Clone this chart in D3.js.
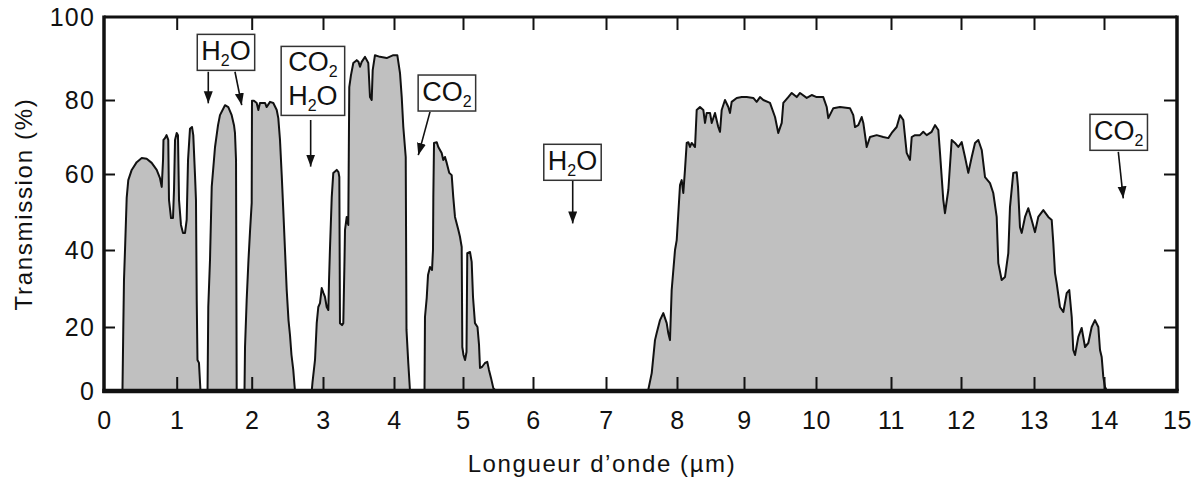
<!DOCTYPE html>
<html>
<head>
<meta charset="utf-8">
<script src="https://cdn.jsdelivr.net/npm/d3@7"></script>
<style>
  body { margin: 0; background: #fff; }
  svg text { font-family: "Liberation Sans", Arial, Helvetica, sans-serif; fill: #111; }
</style>
</head>
<body>
<svg id="chart" width="1198" height="477"></svg>
<script>
// Atmospheric transmission spectrum
var wavelength = [
  0.254, 0.265, 0.275, 0.289, 0.312, 0.334, 0.381, 0.450, 0.519, 0.587, 0.656, 0.725, 0.770, 0.794, 0.812, 0.818,
  0.839, 0.860, 0.884, 0.894, 0.922, 0.949, 0.963, 0.977, 1.000, 1.017, 1.031, 1.057, 1.084, 1.111, 1.133, 1.151,
  1.177, 1.204, 1.221, 1.244, 1.257, 1.267, 1.277, 1.297, 1.317,
  1.411, 1.421, 1.444, 1.467, 1.511, 1.551, 1.577, 1.644, 1.688, 1.733, 1.764, 1.777, 1.791, 1.800,
  1.904, 1.911, 1.933, 1.957, 1.977, 2.000, 2.004, 2.032, 2.070, 2.093, 2.116, 2.187, 2.210, 2.257, 2.303, 2.351,
  2.373, 2.397, 2.421, 2.443, 2.467, 2.491, 2.516, 2.537, 2.558, 2.583, 2.607,
  2.842, 2.853, 2.888, 2.912, 2.934, 2.958, 2.982, 3.007, 3.028, 3.052, 3.075, 3.085, 3.099, 3.123, 3.145, 3.193,
  3.218, 3.230, 3.239, 3.268, 3.286, 3.303, 3.310, 3.334, 3.356, 3.370, 3.394, 3.427, 3.475, 3.500, 3.521, 3.545,
  3.592, 3.638, 3.662, 3.686, 3.700, 3.732, 3.803, 3.897, 3.990, 4.048, 4.087, 4.112, 4.135, 4.170, 4.181, 4.207, 4.232,
  4.442, 4.449, 4.474, 4.493, 4.522, 4.551, 4.565, 4.570, 4.580, 4.619, 4.642, 4.691, 4.714, 4.739, 4.764, 4.801,
  4.836, 4.859, 4.884, 4.932, 4.957, 4.981, 4.990, 5.007, 5.029, 5.050, 5.061, 5.100, 5.124, 5.143, 5.171, 5.207,
  5.229, 5.243, 5.271, 5.314, 5.347, 5.371, 5.400, 5.433, 5.471,
  7.592, 7.644, 7.690, 7.714, 7.761, 7.807, 7.855, 7.877, 7.901, 7.925, 7.972, 7.996, 8.045, 8.070, 8.094, 8.119,
  8.145, 8.169, 8.194, 8.219, 8.269, 8.294, 8.343, 8.393, 8.418, 8.443, 8.493, 8.518, 8.567, 8.616, 8.642, 8.667,
  8.716, 8.766, 8.791, 8.816, 8.891, 8.966, 9.038, 9.129, 9.176, 9.222, 9.268, 9.361, 9.431, 9.476, 9.524, 9.546,
  9.615, 9.663, 9.732, 9.778, 9.871, 9.940, 10.009, 10.097, 10.143, 10.164, 10.231, 10.320, 10.453, 10.497, 10.520, 10.564,
  10.609, 10.631, 10.676, 10.720, 10.809, 10.897, 10.964, 11.010, 11.081, 11.129, 11.176, 11.224, 11.271, 11.296, 11.343, 11.414,
  11.461, 11.510, 11.581, 11.629, 11.676, 11.700, 11.747, 11.771, 11.819, 11.867, 11.914, 11.961, 12.010, 12.055, 12.100, 12.147,
  12.192, 12.237, 12.284, 12.329, 12.397, 12.442, 12.489, 12.511, 12.557, 12.603, 12.648, 12.671, 12.716, 12.763, 12.781, 12.808,
  12.832, 12.877, 12.922, 12.968, 13.014, 13.061, 13.133, 13.204, 13.253, 13.276, 13.300, 13.324, 13.371, 13.419, 13.467, 13.504,
  13.539, 13.561, 13.586, 13.633, 13.681, 13.729, 13.776, 13.824, 13.871, 13.919, 13.943, 13.967, 13.990, 14.014, 14.041
];
var transmission = [
  0, 19.1, 32.2, 40, 53.7, 58.4, 61.1, 63.2, 64.3, 64.1, 63.0, 61.1, 58.9, 56.6, 63.8, 69.2,
  69.7, 70.5, 69.2, 53.2, 48.4, 48.4, 55.8, 69.2, 71.1, 70.5, 53.2, 46.6, 44.5, 44.5, 47.9, 63.8,
  72.2, 72.7, 70.5, 59.7, 53.2, 27.0, 9.7, 8.8, 0,
  0, 25.2, 37.4, 56.6, 67.3, 73.2, 75.9, 78.6, 78.1, 75.9, 73.2, 71.1, 63.8, 0,
  0, 13.75, 27.0, 37.4, 44.7, 52.4, 79.8, 79.8, 79.2, 77.3, 79.2, 79.2, 78.1, 79.5, 79.2, 77.3,
  75.1, 69.2, 59.7, 50.5, 40, 29.6, 21.8, 17.5, 11.25, 6.6, 0,
  0, 2.8, 9.7, 21.0, 25.2, 26.2, 30.1, 28.8, 27.8, 25.2, 24.4, 32.2, 40.8, 53.9, 60.3, 61.1,
  60.5, 59.2, 21.0, 20.5, 21.0, 37.4, 45.3, 48.7, 46.6, 83.1, 86.0, 88.9, 89.6, 89.2, 88.0, 89.2,
  90.4, 88.9, 80.7, 80.0, 87.2, 90.8, 90.4, 90.1, 90.8, 90.8, 86.5, 80.7, 72.7, 64.6, 19.1, 8.75, 0,
  0, 22.6, 27.5, 33.5, 35.6, 34.8, 40, 53.9, 68.4, 68.6, 67.3, 65.7, 63.8, 64.6, 63.0, 60.3,
  59.7, 53.9, 48.7, 45.3, 43.4, 40.8, 13.75, 11.25, 9.7, 12.2, 39.2, 39.5, 36.9, 27.8, 21.0, 20.0,
  14.4, 7.2, 7.5, 8.75, 9.1, 6.6, 4.1, 0.9, 0,
  0, 5.6, 15.9, 18.1, 21.8, 23.6, 21.0, 18.1, 15.9, 29.6, 40, 42.6, 57.1, 58.4, 55.0, 61.1,
  68.4, 68.6, 67.3, 68.4, 67.3, 77.3, 78.1, 77.3, 73.8, 76.5, 76.5, 73.8, 76.5, 72.7, 71.4, 77.3,
  80, 78.1, 76.5, 79.5, 80.5, 80.7, 80.7, 80.5, 79.5, 80.7, 80, 79.2, 75.4, 71.1, 73.8, 79.2,
  80.7, 81.7, 80.7, 81.7, 80.5, 81.2, 80.7, 80.7, 78.1, 75.1, 77.8, 78.1, 77.8, 75.9, 72.7, 73.2,
  75.4, 73.8, 67.3, 70.0, 70.5, 70.0, 69.7, 71.1, 72.7, 75.9, 74.6, 65.7, 63.8, 70.0, 70.5, 70.5,
  71.4, 70.5, 71.4, 73.2, 71.9, 65.7, 53.2, 49.7, 55.8, 69.2, 68.4, 67.3, 68.6, 64.6, 60.3, 64.6,
  68.4, 69.2, 66.5, 59.2, 57.6, 55.0, 48.7, 36.6, 32.2, 33.0, 39.2, 51.3, 60.3, 60.5, 56.6, 46.0,
  44.5, 48.7, 51.0, 47.9, 44.7, 48.7, 50.5, 48.7, 47.9, 41.8, 34.0, 31.4, 25.2, 23.9, 28.8, 29.6,
  22.6, 12.8, 11.25, 16.9, 19.7, 13.75, 15.0, 20.0, 21.8, 20.0, 12.8, 10.6, 4.4, 1.25, 0
];

var xTicks = d3.range(0, 16);
var yTicks = [0, 20, 40, 60, 80, 100];
var xLabel = "Longueur d\u2019onde (\u00b5m)";
var yLabel = "Transmission (%)";

// absorption labels: box centre and arrows, in data units
var annoLabels = [["H_2O"], ["CO_2", "H_2O"], ["CO_2"], ["H_2O"], ["CO_2"]];
var annoX = [1.657, 2.858, 4.766, 6.541, 14.201];
var annoY = [91.6, 84.0, 81.8, 63.3, 71.4];
var arrowFromX = [1.421, 1.777, 2.827, 4.522, 6.544, 14.196];
var arrowFromY = [86.8, 86.8, 74.6, 76.8, 58.2, 66.0];
var arrowToX = [1.421, 1.867, 2.827, 4.352, 6.544, 14.264];
var arrowToY = [79.1, 78.6, 62.0, 65.1, 47.0, 53.6];

// the scanned figure is slightly uneven, so both scales are pinned on each tick
var xCalib = [104, 176.7, 251.7, 323, 394, 463, 533, 606, 677, 744, 816, 891, 961, 1034, 1104, 1177];
var yCalib = [391, 327, 250, 174, 100, 17];

var svg = d3.select("#chart");
var x = d3.scaleLinear().domain(xTicks).range(xCalib);
var y = d3.scaleLinear().domain(yTicks).range(yCalib);

var points = wavelength.map(function(w, i) { return {w: w, t: transmission[i]}; });

var area = d3.area()
  .x(function(d) { return x(d.w); })
  .y0(y(0))
  .y1(function(d) { return y(d.t); });
var line = d3.line()
  .x(function(d) { return x(d.w); })
  .y(function(d) { return y(d.t); });

svg.append("path").datum(points).attr("d", area).attr("fill", "#c0c0c0");
svg.append("path").datum(points).attr("d", line)
  .attr("fill", "none").attr("stroke", "#111").attr("stroke-width", 2).attr("stroke-linejoin", "round");

// inward ticks on all four sides
function innerTicks(axis, transform) {
  var g = svg.append("g").attr("transform", transform).call(axis);
  g.select(".domain").remove();
  g.selectAll(".tick line").attr("stroke", "#111").attr("stroke-width", 2);
  return g;
}
var inner = d3.range(1, 15);
innerTicks(d3.axisBottom(x).tickValues(inner).tickSize(-14).tickFormat(""), "translate(0," + y(0) + ")");
innerTicks(d3.axisTop(x).tickValues(inner).tickSize(-13).tickFormat(""), "translate(0," + y(100) + ")");
innerTicks(d3.axisLeft(y).tickValues([20, 40, 60, 80]).tickSize(-11).tickFormat(""), "translate(" + x(0) + ",0)");
innerTicks(d3.axisRight(y).tickValues([20, 40, 60, 80]).tickSize(-13).tickFormat(""), "translate(" + x(15) + ",0)");

// tick labels
var gx = svg.append("g").attr("transform", "translate(0," + y(0) + ")")
  .call(d3.axisBottom(x).tickValues(xTicks).tickSize(0).tickPadding(20));
gx.select(".domain").remove();
gx.selectAll("text").attr("font-size", 25).attr("font-family", null).attr("letter-spacing", 0.6);
var gy = svg.append("g").attr("transform", "translate(" + x(0) + ",0)")
  .call(d3.axisLeft(y).tickValues(yTicks).tickSize(0).tickPadding(9));
gy.select(".domain").remove();
gy.selectAll("text").attr("font-size", 25).attr("font-family", null).attr("letter-spacing", 1.2);

// frame
svg.append("line").attr("x1", x(0)).attr("x2", x(15)).attr("y1", y(100)).attr("y2", y(100))
  .attr("stroke", "#111").attr("stroke-width", 3);
svg.append("line").attr("x1", x(15)).attr("x2", x(15)).attr("y1", y(100) - 1.5).attr("y2", y(0))
  .attr("stroke", "#111").attr("stroke-width", 3.5);
svg.append("line").attr("x1", x(0)).attr("x2", x(0)).attr("y1", y(100) - 1.5).attr("y2", y(0) + 2)
  .attr("stroke", "#111").attr("stroke-width", 3.5);
svg.append("line").attr("x1", x(0) - 1.7).attr("x2", x(15) + 1.7).attr("y1", y(0)).attr("y2", y(0))
  .attr("stroke", "#111").attr("stroke-width", 4.5);

// axis titles
svg.append("text").attr("x", 602).attr("y", 472).attr("text-anchor", "middle")
  .attr("font-size", 24).attr("letter-spacing", 1.6).text(xLabel);
svg.append("text").attr("transform", "translate(32," + ((y(0) + y(100)) / 2) + ") rotate(-90)")
  .attr("text-anchor", "middle").attr("font-size", 24).attr("letter-spacing", 1.7).text(yLabel);

// arrows
svg.append("defs").append("marker").attr("id", "head")
  .attr("markerUnits", "userSpaceOnUse").attr("markerWidth", 14).attr("markerHeight", 10)
  .attr("refX", 12).attr("refY", 4.5).attr("orient", "auto")
  .append("path").attr("d", "M0,0 L12,4.5 L0,9 Z").attr("fill", "#111");
arrowFromX.forEach(function(v, i) {
  svg.append("line")
    .attr("x1", x(v)).attr("y1", y(arrowFromY[i]))
    .attr("x2", x(arrowToX[i])).attr("y2", y(arrowToY[i]))
    .attr("stroke", "#111").attr("stroke-width", 1.6).attr("marker-end", "url(#head)");
});

// label boxes, "_" marks the subscript digit; the lines of a box are separate texts
var lineGap = 34, subDrop = 6;
function writeFormula(text, s) {
  var k = s.indexOf("_");
  if (k < 0) { text.text(s); return; }
  text.append("tspan").text(s.slice(0, k));
  text.append("tspan").attr("font-size", 16).attr("dy", subDrop).text(s.charAt(k + 1));
  if (s.length > k + 2) text.append("tspan").attr("dy", -subDrop).text(s.slice(k + 2));
}
annoLabels.forEach(function(lines, i) {
  var g = svg.append("g").attr("transform", "translate(" + x(annoX[i]) + "," + y(annoY[i]) + ")");
  var box = g.append("rect");
  var n = lines.length;
  var tg = g.append("g");
  lines.forEach(function(s, j) {
    var t = tg.append("text").attr("text-anchor", "middle").attr("font-size", 27)
      .attr("y", (j - (n - 1) / 2) * lineGap + (n > 1 ? 5 : 8));
    writeFormula(t, s);
  });
  var bb = tg.node().getBBox();
  var padX = n > 1 ? 7 : 4, padY = n > 1 ? 1 : 1.5;
  box.attr("x", bb.x - padX).attr("y", bb.y - padY)
    .attr("width", bb.width + 2 * padX).attr("height", bb.height + 2 * padY)
    .attr("fill", "#fff").attr("stroke", "#333").attr("stroke-width", 1.5);
});
</script>
</body>
</html>
